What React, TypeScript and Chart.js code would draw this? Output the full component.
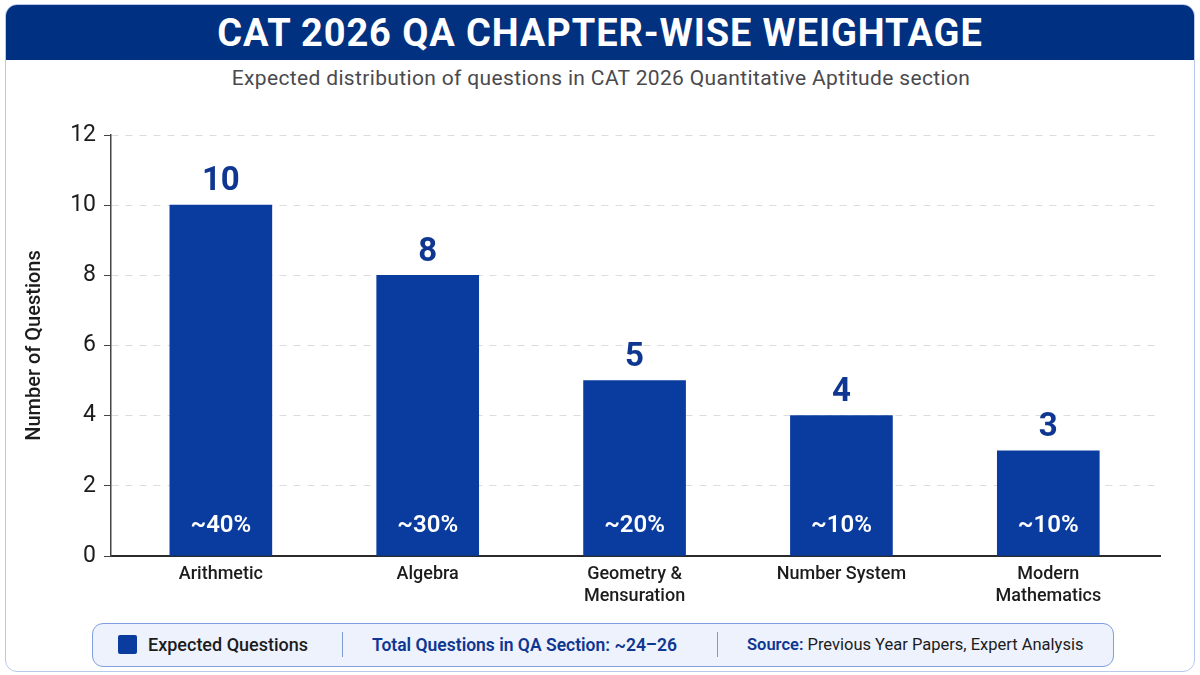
import React, { useEffect, useRef } from "react";
import { Chart, registerables } from "chart.js";

Chart.register(...registerables);

const categories: (string | string[])[] = ["Arithmetic", "Algebra", ["Geometry &", "Mensuration"], "Number System", ["Modern", "Mathematics"]];
const questions = [10, 8, 5, 4, 3];
const shares = ["~40%", "~30%", "~20%", "~10%", "~10%"];
const yTicks = [0, 2, 4, 6, 8, 10, 12];

const titleText = "CAT 2026 QA CHAPTER-WISE WEIGHTAGE";
const subtitleText = "Expected distribution of questions in CAT 2026 Quantitative Aptitude section";
const FONT = "Roboto, Inter, sans-serif";
const BLUE = "#0a3b9e";
const NAVY = "#0f3791";

const barLabels = {
  id: "barLabels",
  afterDatasetsDraw(chart: any) {
    const { ctx } = chart;
    const meta = chart.getDatasetMeta(0);
    ctx.save();
    ctx.textAlign = "center";
    ctx.textBaseline = "middle";
    meta.data.forEach((bar: any, i: number) => {
      ctx.fillStyle = NAVY;
      ctx.font = `700 33px ${FONT}`;
      ctx.fillText(String(questions[i]), bar.x, bar.y - 23);
      ctx.fillStyle = "#ffffff";
      ctx.font = `600 24px ${FONT}`;
      ctx.fillText(shares[i], bar.x, 526);
    });
    ctx.restore();
  },
};

const abs = (s: React.CSSProperties): React.CSSProperties => ({ position: "absolute", ...s });
const divider = (left: number) => <div style={abs({ left, top: 632, width: 1, height: 25, background: "#7f9bd0" })} />;

export default function App() {
  const ref = useRef<HTMLCanvasElement>(null);
  useEffect(() => {
    document.body.style.margin = "0";
    const chart = new Chart(ref.current!, {
      type: "bar",
      data: {
        datasets: [
          {
            label: "Expected Questions",
            data: questions.map((y, x) => ({ x, y })),
            backgroundColor: BLUE,
            barThickness: 102,
          },
        ],
      },
      options: {
        animation: false,
        responsive: false,
        devicePixelRatio: 1,
        layout: { padding: { left: 23, top: 135, right: 40, bottom: 0 } },
        plugins: { legend: { display: false }, tooltip: { enabled: false } },
        scales: {
          x: {
            type: "linear",
            offset: false,
            min: -0.531,
            max: 4.54,
            afterBuildTicks: (s: any) => {
              s.ticks = categories.map((_, i) => ({ value: i }));
            },
            afterFit: (s: any) => {
              s.height = 119;
            },
            ticks: {
              autoSkip: false,
              maxRotation: 0,
              padding: 8,
              color: "#1c1c1c",
              font: { family: FONT, size: 18, weight: "500", lineHeight: 1.22 },
              callback: (v: any) => categories[v],
            },
            grid: { display: false, drawTicks: false },
            border: { color: "#2b2b2b", width: 2 },
          },
          y: {
            min: 0,
            max: 12,
            afterBuildTicks: (s: any) => {
              s.ticks = yTicks.map((value) => ({ value }));
            },
            afterFit: (s: any) => {
              s.width = 88;
            },
            title: {
              display: true,
              text: "Number of Questions",
              color: "#1c1c1c",
              padding: { top: 0, bottom: 20 },
              font: { family: FONT, size: 20, weight: "500" },
            },
            ticks: { color: "#1c1c1c", padding: 8, font: { family: FONT, size: 23 } },
            grid: {
              color: "#dcdcdc",
              tickColor: "#444444",
              tickLength: 7,
              tickBorderDash: [],
              lineWidth: 1,
            },
            border: { color: "#444444", width: 1.5, dash: [7, 7] },
          },
        },
      },
      plugins: [barLabels],
    } as any);
    return () => chart.destroy();
  }, []);

  return (
    <div style={{ position: "relative", width: 1200, height: 675, background: "#fff", overflow: "hidden", fontFamily: FONT }}>
      <div style={abs({ left: 5, top: 4, width: 1188, height: 666, border: "1.5px solid #b9c9ee", borderRadius: 12, boxSizing: "content-box" })} />
      <div
        style={abs({
          left: 6,
          top: 5,
          width: 1188,
          height: 55,
          borderRadius: "11px 11px 0 0",
          background: "linear-gradient(90deg,#003082,#02317f 50%,#003082)",
          color: "#fff",
          fontWeight: 700,
          fontSize: 38,
          lineHeight: "56px",
          textAlign: "center",
          letterSpacing: 0.9,
        })}
      >
        {titleText}
      </div>
      <div style={abs({ left: 0, top: 64, width: 1202, textAlign: "center", color: "#4a4a4e", fontSize: 21, fontWeight: 400, lineHeight: "28px", letterSpacing: 0.35 })}>
        {subtitleText}
      </div>
      <canvas ref={ref} width={1200} height={675} style={abs({ left: 0, top: 0, width: 1200, height: 675 })} />
      <div style={abs({ left: 92, top: 623, width: 1020, height: 42, background: "#edf2fc", border: "1px solid #7f9fe0", borderRadius: 11 })} />
      <div style={abs({ left: 118, top: 635, width: 19, height: 19, background: BLUE, borderRadius: 2 })} />
      <div style={abs({ left: 148, top: 633, fontSize: 18, fontWeight: 500, color: "#1c1c1c", lineHeight: "24px", whiteSpace: "nowrap" })}>Expected Questions</div>
      {divider(342)}
      <div style={abs({ left: 372, top: 633, fontSize: 17.5, fontWeight: 600, color: NAVY, lineHeight: "24px", whiteSpace: "nowrap" })}>Total Questions in QA Section: ~24–26</div>
      {divider(717)}
      <div style={abs({ left: 747, top: 633, fontSize: 16.5, fontWeight: 400, color: "#1c1c1c", lineHeight: "24px", whiteSpace: "nowrap" })}>
        <span style={{ color: NAVY, fontWeight: 600 }}>Source:</span> Previous Year Papers, Expert Analysis
      </div>
    </div>
  );
}
